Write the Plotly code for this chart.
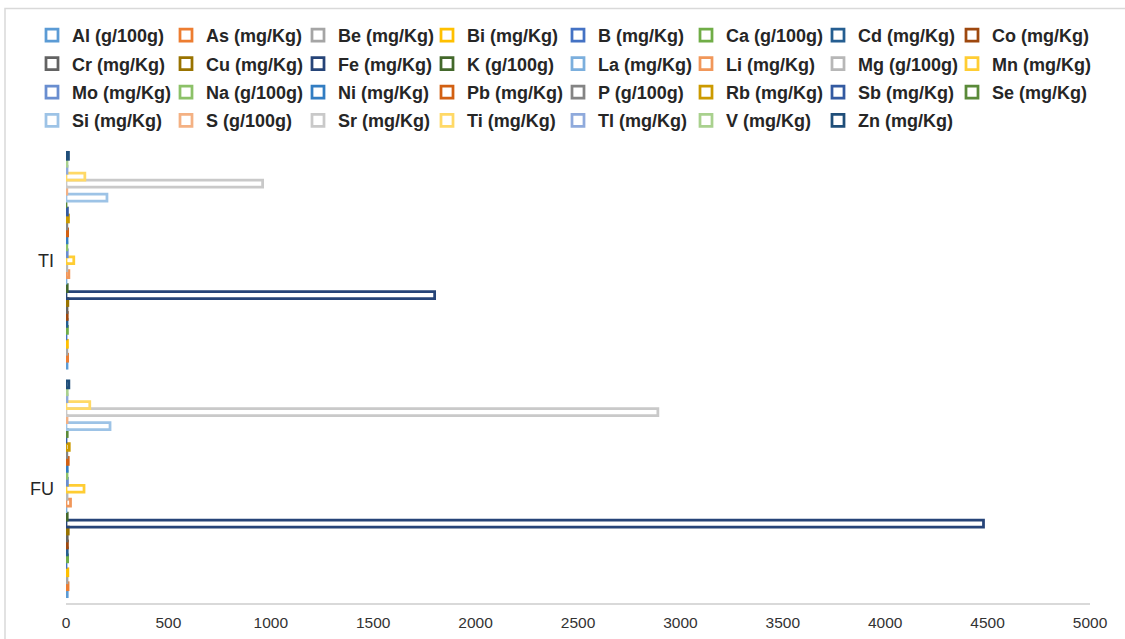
import plotly.graph_objects as go

# Sample categories (y axis) and analytes (one bar series each)
categories = ["FU", "TI"]

series_names = [
    "Al (g/100g)", "As (mg/Kg)", "Be (mg/Kg)", "Bi (mg/Kg)", "B (mg/Kg)",
    "Ca (g/100g)", "Cd (mg/Kg)", "Co (mg/Kg)", "Cr (mg/Kg)", "Cu (mg/Kg)",
    "Fe (mg/Kg)", "K (g/100g)", "La (mg/Kg)", "Li (mg/Kg)", "Mg (g/100g)",
    "Mn (mg/Kg)", "Mo (mg/Kg)", "Na (g/100g)", "Ni (mg/Kg)", "Pb (mg/Kg)",
    "P (g/100g)", "Rb (mg/Kg)", "Sb (mg/Kg)", "Se (mg/Kg)", "Si (mg/Kg)",
    "S (g/100g)", "Sr (mg/Kg)", "Ti (mg/Kg)", "Tl (mg/Kg)", "V (mg/Kg)",
    "Zn (mg/Kg)",
]

fu_values = [
    6, 10, 5, 9, 0,
    8, 6, 7, 6, 11,
    4480, 6, 0, 22, 5,
    88, 7, 5, 6, 11,
    4, 16, 0, 6, 215,
    5, 2890, 116, 5, 6,
    14,
]

ti_values = [
    5, 8, 4, 7, 0,
    7, 5, 6, 5, 9,
    1800, 6, 0, 14, 4,
    38, 6, 4, 5, 8,
    4, 12, 7, 0, 200,
    4, 960, 92, 5, 5,
    12,
]

colors = [
    "#5B9BD5", "#ED7D31", "#A5A5A5", "#FFC000", "#4472C4", "#70AD47",
    "#255E91", "#9E480E", "#636363", "#997300", "#264478", "#43682B",
    "#7CAFDD", "#F1975A", "#B7B7B7", "#FFCD33", "#698ED0", "#8CC168",
    "#327DC2", "#D26012", "#848484", "#CC9A00", "#335AA1", "#5A8A39",
    "#9DC3E6", "#F4B183", "#C9C9C9", "#FFD966", "#8FAADC", "#A9D18E",
    "#1F4E79",
]

x_ticks = [0, 500, 1000, 1500, 2000, 2500, 3000, 3500, 4000, 4500, 5000]

# Page geometry (pixels)
W, H = 1125, 639
ML, MR, MT, MB = 66, 35, 146, 36
PW = W - ML - MR
PH = H - MT - MB

N_COLS = 8
legend_text_left = [68, 202, 334, 463, 594, 722, 854, 988]
legend_top_px = 17


def px_to_paper_x(px):
    return (px - ML) / PW


def px_to_paper_y(py):
    return (H - MB - py) / PH


fig = go.Figure()

for i, name in enumerate(series_names):
    col = i % N_COLS
    legend_id = "legend" if col == 0 else f"legend{col + 1}"
    fig.add_trace(go.Bar(
        y=categories,
        x=[fu_values[i], ti_values[i]],
        name=name,
        orientation="h",
        marker=dict(color="rgba(255,255,255,0)",
                    line=dict(color=colors[i], width=2.75)),
        legend=legend_id,
        legendgroup=name,
        hoverinfo="x+name",
    ))

legend_font = dict(family="Liberation Sans, Arial, sans-serif", size=18,
                   color="#262626", weight="bold")

layout_legends = {}
for c in range(N_COLS):
    key = "legend" if c == 0 else f"legend{c + 1}"
    layout_legends[key] = dict(
        x=px_to_paper_x(legend_text_left[c] - 36),
        xanchor="left",
        y=px_to_paper_y(legend_top_px),
        yanchor="top",
        orientation="v",
        traceorder="grouped",
        tracegroupgap=2.0,
        bgcolor="rgba(0,0,0,0)",
        borderwidth=0,
        font=legend_font,
        itemclick=False,
        itemdoubleclick=False,
    )

fig.update_layout(
    width=W,
    height=H,
    margin=dict(l=ML, r=MR, t=MT, b=MB, autoexpand=False),
    paper_bgcolor="white",
    plot_bgcolor="white",
    barmode="group",
    bargap=0.0555,
    bargroupgap=0,
    showlegend=True,
    **layout_legends,
    xaxis=dict(
        range=[0, 5000],
        tickvals=x_ticks,
        ticktext=[str(v) for v in x_ticks],
        showgrid=False,
        zeroline=False,
        showline=True,
        linecolor="#d9d9d9",
        linewidth=1.5,
        ticks="",
        ticklabelstandoff=5,
        tickfont=dict(family="Liberation Sans, Arial, sans-serif", size=15.5,
                      color="#333333"),
        fixedrange=True,
    ),
    yaxis=dict(
        categoryorder="array",
        categoryarray=categories,
        showgrid=False,
        zeroline=False,
        showline=False,
        ticks="",
        ticklabelstandoff=11,
        tickfont=dict(family="Liberation Sans, Arial, sans-serif", size=18,
                      color="#262626"),
        fixedrange=True,
    ),
    shapes=[dict(
        type="rect",
        xref="paper", yref="paper",
        x0=px_to_paper_x(5), x1=px_to_paper_x(1140),
        y0=px_to_paper_y(650), y1=px_to_paper_y(8.5),
        line=dict(color="#d9d9d9", width=1.5),
        fillcolor="rgba(0,0,0,0)",
        layer="below",
    )],
)

fig.write_html("out.html")
